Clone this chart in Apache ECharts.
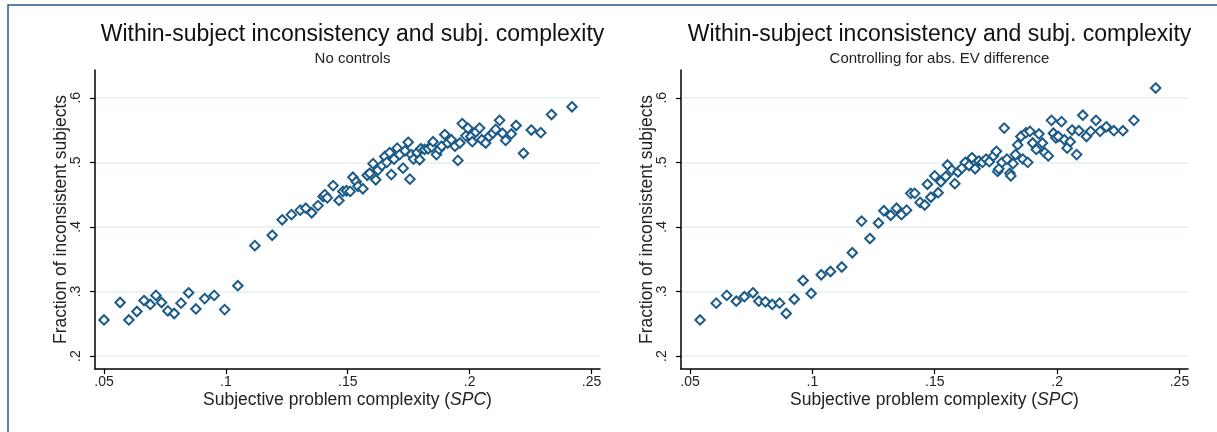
<!DOCTYPE html>
<html>
<head>
<meta charset="utf-8">
<script src="https://cdn.jsdelivr.net/npm/echarts@6/dist/echarts.min.js"></script>
<style>
  html, body { margin: 0; padding: 0; background: #fff; }
  #chart { width: 1217px; height: 432px; }
</style>
</head>
<body>
<div id="chart"></div>
<script>
// left panel: no controls
var spcNoControls = [0.0500, 0.0566, 0.0602, 0.0635, 0.0664, 0.0690, 0.0713, 0.0736, 0.0762, 0.0788,
  0.0816, 0.0847, 0.0877, 0.0913, 0.0952, 0.0995, 0.1049, 0.1119, 0.1190, 0.1231,
  0.1269, 0.1305, 0.1328, 0.1352, 0.1378, 0.1399, 0.1406, 0.1416, 0.1440, 0.1464,
  0.1480, 0.1495, 0.1510, 0.1521, 0.1535, 0.1542, 0.1562, 0.1580, 0.1590, 0.1604,
  0.1615, 0.1624, 0.1640, 0.1652, 0.1660, 0.1672, 0.1679, 0.1690, 0.1703, 0.1713,
  0.1727, 0.1735, 0.1748, 0.1755, 0.1761, 0.1770, 0.1785, 0.1795, 0.1800, 0.1815,
  0.1830, 0.1845, 0.1850, 0.1864, 0.1875, 0.1885, 0.1898, 0.1910, 0.1925, 0.1940,
  0.1952, 0.1960, 0.1970, 0.1985, 0.1993, 0.2005, 0.2011, 0.2025, 0.2041, 0.2050,
  0.2066, 0.2080, 0.2095, 0.2107, 0.2123, 0.2135, 0.2148, 0.2171, 0.2191, 0.2221,
  0.2253, 0.2292, 0.2336, 0.2420];
var fracNoControls = [0.256, 0.283, 0.256, 0.269, 0.286, 0.280, 0.294, 0.283, 0.270, 0.266,
  0.282, 0.298, 0.273, 0.289, 0.294, 0.272, 0.309, 0.371, 0.387, 0.411,
  0.419, 0.426, 0.429, 0.422, 0.433, 0.447, 0.450, 0.445, 0.464, 0.441,
  0.455, 0.456, 0.455, 0.477, 0.470, 0.463, 0.459, 0.480, 0.483, 0.498,
  0.473, 0.488, 0.495, 0.509, 0.500, 0.515, 0.481, 0.505, 0.522, 0.512,
  0.491, 0.518, 0.531, 0.474, 0.512, 0.505, 0.515, 0.504, 0.521, 0.520,
  0.521, 0.524, 0.532, 0.512, 0.520, 0.525, 0.543, 0.530, 0.535, 0.525,
  0.503, 0.530, 0.560, 0.541, 0.553, 0.540, 0.532, 0.547, 0.553, 0.535,
  0.530, 0.540, 0.545, 0.551, 0.565, 0.545, 0.534, 0.544, 0.557, 0.514,
  0.550, 0.546, 0.574, 0.586];

// right panel: controlling for abs. EV difference
var spcControls = [0.0541, 0.0607, 0.0650, 0.0689, 0.0722, 0.0757, 0.0781, 0.0808, 0.0836, 0.0866,
  0.0893, 0.0926, 0.0962, 0.0995, 0.1036, 0.1074, 0.1120, 0.1163, 0.1201, 0.1235,
  0.1270, 0.1292, 0.1320, 0.1344, 0.1364, 0.1385, 0.1402, 0.1418, 0.1440, 0.1459,
  0.1470, 0.1484, 0.1500, 0.1514, 0.1525, 0.1545, 0.1552, 0.1570, 0.1582, 0.1595,
  0.1611, 0.1625, 0.1640, 0.1652, 0.1665, 0.1680, 0.1695, 0.1710, 0.1723, 0.1740,
  0.1752, 0.1757, 0.1762, 0.1775, 0.1784, 0.1795, 0.1807, 0.1811, 0.1820, 0.1830,
  0.1839, 0.1852, 0.1860, 0.1873, 0.1880, 0.1889, 0.1900, 0.1915, 0.1926, 0.1940,
  0.1950, 0.1964, 0.1977, 0.1985, 0.1995, 0.2005, 0.2018, 0.2030, 0.2041, 0.2054,
  0.2061, 0.2080, 0.2089, 0.2105, 0.2120, 0.2137, 0.2159, 0.2176, 0.2201, 0.2232,
  0.2269, 0.2314, 0.2403];
var fracControls = [0.256, 0.282, 0.294, 0.285, 0.292, 0.298, 0.285, 0.284, 0.280, 0.282,
  0.266, 0.288, 0.317, 0.297, 0.326, 0.331, 0.338, 0.360, 0.409, 0.382,
  0.406, 0.425, 0.418, 0.429, 0.419, 0.426, 0.452, 0.452, 0.438, 0.434,
  0.466, 0.446, 0.479, 0.453, 0.470, 0.478, 0.496, 0.488, 0.467, 0.485,
  0.491, 0.500, 0.495, 0.507, 0.490, 0.502, 0.500, 0.505, 0.501, 0.510,
  0.517, 0.486, 0.490, 0.500, 0.553, 0.505, 0.483, 0.479, 0.498, 0.512,
  0.527, 0.540, 0.505, 0.546, 0.500, 0.548, 0.530, 0.520, 0.544, 0.530,
  0.515, 0.510, 0.565, 0.545, 0.538, 0.540, 0.563, 0.535, 0.522, 0.532,
  0.550, 0.512, 0.549, 0.573, 0.540, 0.548, 0.565, 0.548, 0.555, 0.549,
  0.549, 0.565, 0.615];

var xTicks = [0.05, 0.1, 0.15, 0.2, 0.25];
var yTicks = [0.2, 0.3, 0.4, 0.5, 0.6];
var mainTitle = 'Within-subject inconsistency and subj. complexity';
var subTitles = ['No controls', 'Controlling for abs. EV difference'];

var FONT = '"Liberation Sans", Arial, Helvetica, sans-serif';
var NAVY = '#1b5a88';
var GRIDCOL = '#e6eff2';

function pairs(xs, ys) {
  return xs.map(function (x, i) { return [x, ys[i]]; });
}
function stataLabel(v) {
  return String(v).replace(/^0\./, '.');
}

var grids = [
  { left: 95, top: 70, width: 505, height: 299 },
  { left: 681, top: 70, width: 507, height: 299 }
];

function xAxisFor(i) {
  return {
    type: 'value', gridIndex: i, min: 0.0463, max: 0.2535,
    name: '{n|Subjective problem complexity (}{i|SPC}{n|)}',
    nameLocation: 'middle', nameGap: 22, nameMoveOverlap: false,
    nameTextStyle: {
      rich: {
        n: { fontFamily: FONT, fontSize: 17.5, color: '#222' },
        i: { fontFamily: FONT, fontSize: 17.5, color: '#222', fontStyle: 'italic' }
      }
    },
    axisLine: { show: true, onZero: false, lineStyle: { color: '#000', width: 1.5 } },
    axisTick: { show: true, length: 5, customValues: xTicks, lineStyle: { color: '#000', width: 1.2 } },
    axisLabel: { customValues: xTicks, formatter: stataLabel, fontFamily: FONT, fontSize: 14, color: '#222', margin: 6 },
    splitLine: { show: false }
  };
}
function yAxisFor(i) {
  return {
    type: 'value', gridIndex: i, min: 0.18, max: 0.643,
    name: 'Fraction of inconsistent subjects',
    nameLocation: 'middle', nameGap: 25, nameRotate: 90, nameMoveOverlap: false,
    nameTextStyle: { fontFamily: FONT, fontSize: 17.5, color: '#222' },
    axisLine: { show: true, onZero: false, lineStyle: { color: '#000', width: 1.5 } },
    axisTick: { show: true, length: 5, customValues: yTicks, lineStyle: { color: '#000', width: 1.2 } },
    axisLabel: { customValues: yTicks, formatter: stataLabel, rotate: 90, fontFamily: FONT, fontSize: 14, color: '#222', margin: 12 },
    splitLine: { show: true, customValues: yTicks, lineStyle: { color: GRIDCOL, width: 1.5 } }
  };
}

var myChart = echarts.init(document.getElementById('chart'));
var option = {
  backgroundColor: '#fff',
  animation: false,
  title: [0, 1].map(function (i) {
    return {
      text: mainTitle, subtext: subTitles[i],
      left: grids[i].left + grids[i].width / 2, top: 18, textAlign: 'center',
      itemGap: 5,
      textStyle: { fontFamily: FONT, fontSize: 23, fontWeight: 'normal', color: '#111' },
      subtextStyle: { fontFamily: FONT, fontSize: 15, color: '#222' }
    };
  }),
  graphic: [{
    type: 'rect', shape: { x: 8, y: 5, width: 1230, height: 440 },
    style: { fill: 'none', stroke: '#2a5590', lineWidth: 1.5 }, silent: true
  }],
  grid: grids,
  xAxis: [xAxisFor(0), xAxisFor(1)],
  yAxis: [yAxisFor(0), yAxisFor(1)],
  series: [
    { type: 'scatter', xAxisIndex: 0, yAxisIndex: 0, data: pairs(spcNoControls, fracNoControls) },
    { type: 'scatter', xAxisIndex: 1, yAxisIndex: 1, data: pairs(spcControls, fracControls) }
  ].map(function (s) {
    s.symbol = 'diamond';
    s.symbolSize = 9.5;
    s.itemStyle = { color: '#fff', borderColor: NAVY, borderWidth: 2, opacity: 1 };
    return s;
  })
};
myChart.setOption(option);
</script>
</body>
</html>
